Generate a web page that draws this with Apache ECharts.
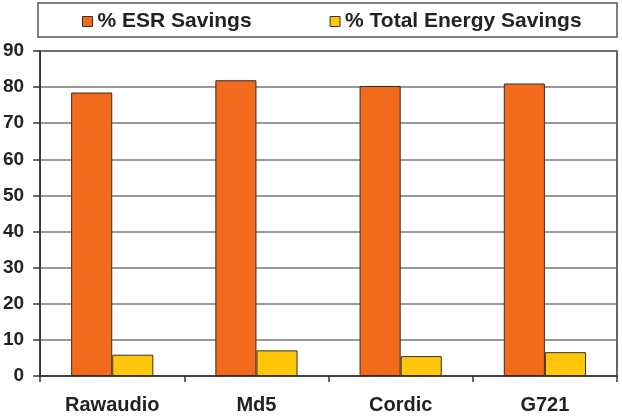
<!DOCTYPE html>
<html>
<head>
<meta charset="utf-8">
<script src="https://cdn.jsdelivr.net/npm/echarts@6/dist/echarts.min.js"></script>
<style>
    html, body { margin: 0; padding: 0; background: #fff; }
    #main { width: 622px; height: 417px; }
</style>
</head>
<body>
<div id="main"></div>
<script type="text/javascript">
    // data
    var categories = ['Rawaudio', 'Md5', 'Cordic', 'G721'];
    var esrSavings = [78.5, 81.9, 80.3, 81.0];
    var totalSavings = [5.9, 7.1, 5.5, 6.6];
    var yTicks = [0, 10, 20, 30, 40, 50, 60, 70, 80, 90];

    var myChart = echarts.init(document.getElementById('main'));

    var fontFam = '"Liberation Sans", Arial, sans-serif';

    option = {
        animation: false,
        textStyle: { fontFamily: fontFam },
        graphic: [{
            type: 'rect',
            shape: { x: 38, y: 3, width: 579, height: 34 },
            style: { fill: '#fff', stroke: '#555', lineWidth: 1.5 },
            z: -1
        }],
        legend: {
            data: ['% ESR Savings', '% Total Energy Savings'],
            left: 77,
            top: 6,
            itemWidth: 10,
            itemHeight: 10,
            itemGap: 78,
            icon: 'rect',
            itemStyle: { borderColor: '#333', borderWidth: 1 },
            textStyle: { fontSize: 21, fontWeight: 'bold', color: '#222', fontFamily: fontFam }
        },
        grid: {
            left: 37,
            right: 5,
            top: 51,
            bottom: 41,
            show: true,
            borderColor: '#333',
            borderWidth: 1.5
        },
        xAxis: {
            type: 'category',
            data: categories,
            axisLine: { lineStyle: { color: '#333', width: 1.5 } },
            axisTick: { show: true, length: 6, lineStyle: { color: '#333', width: 1.5 } },
            axisLabel: { margin: 19, fontSize: 20, fontWeight: 'bold', color: '#222', fontFamily: fontFam }
        },
        yAxis: {
            type: 'value',
            min: yTicks[0],
            max: yTicks[yTicks.length - 1],
            interval: 10,
            axisLine: { show: true, lineStyle: { color: '#333', width: 1.5 } },
            axisTick: { show: true, length: 7, lineStyle: { color: '#333', width: 1.5 } },
            splitLine: { lineStyle: { color: '#777', width: 1.5 } },
            axisLabel: { margin: 16, fontSize: 19, fontWeight: 'bold', color: '#222', fontFamily: fontFam }
        },
        series: [{
            name: '% ESR Savings',
            type: 'bar',
            data: esrSavings,
            barGap: 0,
            barCategoryGap: '43%',
            itemStyle: { color: '#F26B1D', borderColor: '#3a2a20', borderWidth: 1 }
        }, {
            name: '% Total Energy Savings',
            type: 'bar',
            data: totalSavings,
            itemStyle: { color: '#FFC60A', borderColor: '#3a3020', borderWidth: 1 }
        }]
    };

    myChart.setOption(option);
</script>
</body>
</html>
